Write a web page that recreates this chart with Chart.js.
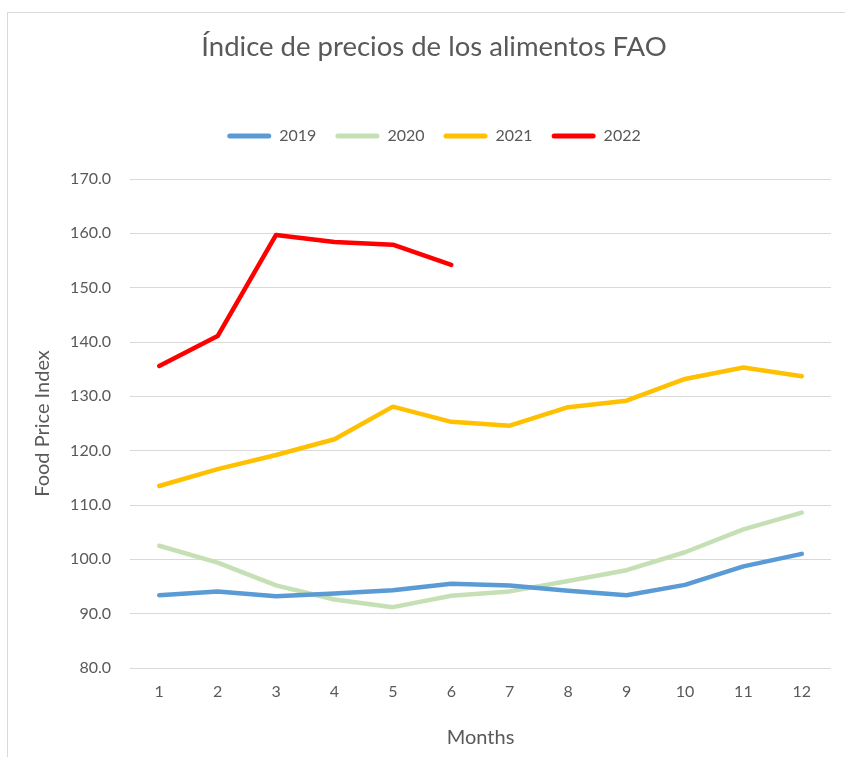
<!DOCTYPE html>
<html lang="es">
<head>
<meta charset="utf-8">
<title>Índice de precios de los alimentos FAO</title>
<script src="https://cdn.jsdelivr.net/npm/chart.js@4.4.1/dist/chart.umd.min.js"></script>
<style>
  html, body { margin: 0; padding: 0; background: #fff; overflow: hidden; }
  .chart-frame {
    position: absolute; left: 7px; top: 12px; width: 900px; height: 800px;
    border-left: 1px solid #d9d9d9; border-top: 1px solid #d9d9d9;
  }
  .chart-box { position: absolute; left: 0; top: 0; width: 845px; height: 757px; }
</style>
</head>
<body>
<div class="chart-frame"></div>
<div class="chart-box"><canvas id="foodPriceChart"></canvas></div>
<script>
// ========== 数据 ==========
const months = ['1', '2', '3', '4', '5', '6', '7', '8', '9', '10', '11', '12']
const years = ['2019', '2020', '2021', '2022']
const values2019 = [93.4, 94.1, 93.2, 93.7, 94.3, 95.5, 95.2, 94.2, 93.4, 95.3, 98.7, 101.0]
const values2020 = [102.5, 99.4, 95.2, 92.6, 91.2, 93.3, 94.1, 96.0, 98.0, 101.3, 105.5, 108.6]
const values2021 = [113.5, 116.6, 119.2, 122.1, 128.1, 125.3, 124.6, 128.0, 129.2, 133.2, 135.3, 133.7]
const values2022 = [135.6, 141.1, 159.7, 158.4, 157.9, 154.2]
const yTicks = [80, 90, 100, 110, 120, 130, 140, 150, 160, 170]

const seriesColors = ['#5B9BD5', '#C5E0B4', '#FFC000', '#FF0000']
const textColor = '#595959'
const gridColor = '#d9d9d9'
const fontFamily = 'Lato, "Open Sans", "Noto Sans", sans-serif'

let foodPriceChart = null

document.addEventListener('DOMContentLoaded', function () {
  initChart()
})

function makeDataset(label, data, color) {
  return {
    label: label,
    data: data,
    borderColor: color,
    backgroundColor: color,
    borderWidth: 4.5,
    borderCapStyle: 'round',
    borderJoinStyle: 'round',
    pointRadius: 0,
    pointHoverRadius: 0,
    tension: 0,
    fill: false
  }
}

// 图例只画实心短线，不描边
function legendLabels(chart) {
  return Chart.defaults.plugins.legend.labels.generateLabels(chart).map(item => ({
    ...item,
    lineWidth: 0
  }))
}

function initChart() {
  const ctx = document.getElementById('foodPriceChart').getContext('2d')
  const allSeries = [values2019, values2020, values2021, values2022]

  foodPriceChart = new Chart(ctx, {
    type: 'line',
    data: {
      labels: months,
      datasets: years.map((y, i) => makeDataset(y, allSeries[i], seriesColors[i]))
    },
    options: {
      responsive: true,
      maintainAspectRatio: false,
      animation: false,
      layout: { padding: { left: 37, right: 14, top: 0, bottom: 5 } },
      plugins: {
        title: {
          display: true,
          text: 'Índice de precios de los alimentos FAO',
          color: textColor,
          font: { family: fontFamily, size: 27.5, weight: 'normal' },
          padding: { top: 30.5, bottom: 45.5 }
        },
        // 图例与绘图区之间的留白
        subtitle: {
          display: true,
          text: ' ',
          weight: 500,
          font: { size: 25, lineHeight: 1 },
          padding: 0
        },
        legend: {
          display: true,
          position: 'top',
          labels: {
            color: textColor,
            font: { family: fontFamily, size: 16 },
            boxWidth: 44,
            boxHeight: 5,
            useBorderRadius: true,
            borderRadius: 2.5,
            padding: 19,
            generateLabels: legendLabels
          }
        },
        tooltip: { enabled: false }
      },
      scales: {
        x: {
          offset: true,
          grid: { display: false, drawTicks: false },
          border: { display: false },
          ticks: {
            color: textColor,
            font: { family: fontFamily, size: 16 },
            padding: 14,
            maxRotation: 0
          },
          title: {
            display: true,
            text: 'Months',
            color: textColor,
            font: { family: fontFamily, size: 20 },
            padding: { top: 4, bottom: 2 }
          },
          afterFit: function (scale) { scale.height = 84 }
        },
        y: {
          min: yTicks[0],
          max: yTicks[yTicks.length - 1],
          afterBuildTicks: function (scale) {
            scale.ticks = yTicks.map(v => ({ value: v }))
          },
          grid: { color: gridColor, lineWidth: 1, drawTicks: false },
          border: { display: false },
          ticks: {
            color: textColor,
            font: { family: fontFamily, size: 16 },
            padding: 19,
            callback: v => Number(v).toFixed(1)
          },
          title: {
            display: true,
            text: 'Food Price Index',
            color: textColor,
            font: { family: fontFamily, size: 20, lineHeight: 1 },
            padding: { top: -4, bottom: 0 }
          },
          afterFit: function (scale) { scale.width = 93 }
        }
      }
    }
  })
}
</script>
</body>
</html>
